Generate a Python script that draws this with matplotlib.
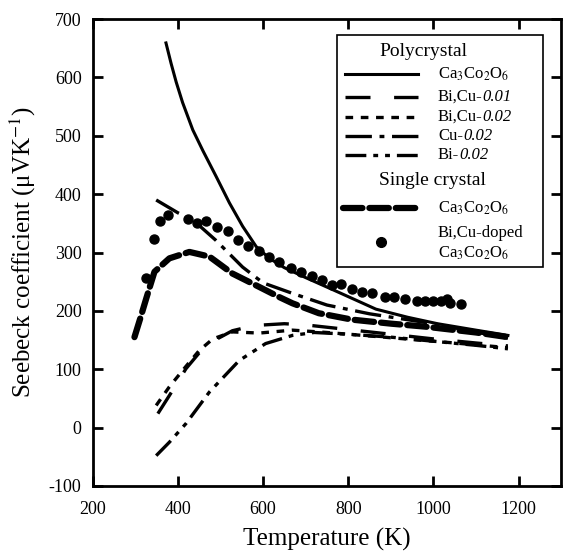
import numpy as np
import matplotlib
matplotlib.use("Agg")
from matplotlib import pyplot as plt
from matplotlib.patches import Rectangle
from matplotlib.lines import Line2D

plt.rcParams['font.family'] = ['Liberation Serif', 'DejaVu Serif']
plt.rcParams['mathtext.fontset'] = 'stix'
plt.rcParams['axes.unicode_minus'] = False
plt.rcParams['lines.scale_dashes'] = False

# polycrystal Ca3Co2O6
T_pure = [372, 384, 396, 411, 435, 459, 490, 521, 552, 584, 615, 650, 700, 780, 865, 940, 1010, 1100, 1175]
S_pure = [659, 624, 592, 557, 510, 474, 430, 385, 345, 310, 290, 274, 257, 231, 203, 189, 178, 167, 158]

# polycrystal Bi,Cu-0.01
T_bicu01 = [353, 380, 419, 450, 482, 528, 580, 650, 700, 800, 900, 1000, 1100, 1175]
S_bicu01 = [24, 55, 101, 128, 148, 166, 175, 178, 176, 168, 160, 152, 145, 140]

# polycrystal Bi,Cu-0.02
T_bicu02 = [349, 380, 419, 450, 482, 528, 591, 669, 750, 850, 950, 1050, 1175]
S_bicu02 = [38, 70, 105, 132, 152, 164, 162, 167, 163, 157, 151, 145, 137]

# polycrystal Cu-0.02
T_cu02 = [349, 400, 435, 489, 552, 600, 669, 750, 850, 1000, 1175]
S_cu02 = [390, 368, 356, 321, 275, 248, 230, 210, 195, 178, 153]

# polycrystal Bi-0.02
T_bi02 = [349, 380, 419, 474, 544, 606, 669, 720, 800, 900, 1000, 1100, 1175]
S_bi02 = [-48, -25, 7, 61, 115, 144, 158, 163, 160, 155, 148, 141, 135]

# single crystal Ca3Co2O6
T_sc = [298, 312, 326, 345, 380, 427, 474, 528, 591, 637, 669, 731, 809, 902, 981, 1100, 1175]
S_sc = [155, 188, 222, 267, 290, 301, 293, 264, 241, 224, 213, 196, 185, 178, 173, 163, 155]

# single crystal Bi,Cu-doped
T_dop = [326, 343, 358, 376, 423, 444, 466, 493, 517, 542, 565, 591, 614, 637, 665, 688, 714,
         739, 762, 784, 809, 833, 856, 887, 907, 934, 961, 981, 1000, 1019, 1031, 1039, 1066]
S_dop = [256, 323, 354, 364, 357, 351, 354, 344, 336, 321, 311, 303, 293, 284, 274, 266, 260,
         253, 244, 246, 238, 233, 231, 224, 224, 220, 217, 217, 217, 217, 220, 213, 211]

fig = plt.figure(figsize=(5.63, 5.56), dpi=100)
ax = fig.add_axes([0.1647, 0.1259, 0.832, 0.8399])

st_pure = dict(color='k', lw=2.2, ls='-')
st_01 = dict(color='k', lw=2.4, dashes=(18, 17))
st_02 = dict(color='k', lw=2.4, dashes=(5.5, 5.5))
st_cu = dict(color='k', lw=2.4, dashes=(19, 5.5, 3.5, 5.5))
st_bi = dict(color='k', lw=2.4, dashes=(15, 5, 3.5, 5, 3.5, 5))
st_sc = dict(color='k', lw=4.5, dashes=(14, 5), dash_capstyle='round')

ax.plot(T_pure, S_pure, **st_pure)
ax.plot(T_bicu01, S_bicu01, **st_01)
ax.plot(T_bicu02, S_bicu02, **st_02)
ax.plot(T_cu02, S_cu02, **st_cu)
ax.plot(T_bi02, S_bi02, **st_bi)
ax.plot(T_sc, S_sc, **st_sc)
ax.plot(T_dop, S_dop, 'o', color='k', ms=6.5, mec='k')

ax.set_xlim(200, 1300)
ax.set_ylim(-100, 700)
ax.set_xticks([200, 400, 600, 800, 1000, 1200])
ax.set_yticks(np.arange(-100, 701, 100))
ax.tick_params(direction='in', length=7, width=2, top=True, right=True, labelsize=13)
ax.tick_params(axis='x', pad=11)
ax.tick_params(axis='y', pad=8)
for s in ax.spines.values():
    s.set_linewidth(2)
ax.set_xlabel("Temperature (K)", fontsize=18, labelpad=7)
ax.set_ylabel("Seebeck coefficient (\u03bcVK$^{\\mathrm{-1}}$)", fontsize=18, labelpad=8)

# legend, drawn by hand
tr = ax.transAxes
ax.add_patch(Rectangle((0.522, 0.469), 0.44, 0.497, transform=tr, fill=False, lw=1.2, ec='k', zorder=5))
ca = r"Ca$_3$Co$_2$O$_6$"
fs = 12
ax.text(0.705, 0.931, "Polycrystal", transform=tr, ha='center', va='center', fontsize=14)
rows = [(0.882, st_pure, ca, ""),
        (0.833, st_01, "Bi,Cu-", "0.01"),
        (0.790, st_02, "Bi,Cu-", "0.02"),
        (0.749, st_cu, "Cu-", "0.02"),
        (0.709, st_bi, "Bi-", "0.02")]
for y, st, lab, itl in rows:
    ax.add_line(Line2D([0.539, 0.695], [y, y], transform=tr, **st))
    t = ax.text(0.737, y, lab, transform=tr, va='center', fontsize=fs)
    if itl:
        ax.annotate(itl, xy=(1, 0), xycoords=t, va='bottom', ha='left', fontsize=fs, style='italic')
ax.text(0.725, 0.655, "Single crystal", transform=tr, ha='center', va='center', fontsize=14)
ax.add_line(Line2D([0.535, 0.695], [0.595, 0.595], transform=tr, **st_sc))
ax.text(0.737, 0.595, ca, transform=tr, va='center', fontsize=fs)
ax.add_line(Line2D([0.616], [0.522], transform=tr, marker='o', color='k', ms=7, ls='none'))
ax.text(0.737, 0.542, "Bi,Cu-doped", transform=tr, va='center', fontsize=fs)
ax.text(0.737, 0.499, ca, transform=tr, va='center', fontsize=fs)

fig.savefig("out.png", dpi=100)
